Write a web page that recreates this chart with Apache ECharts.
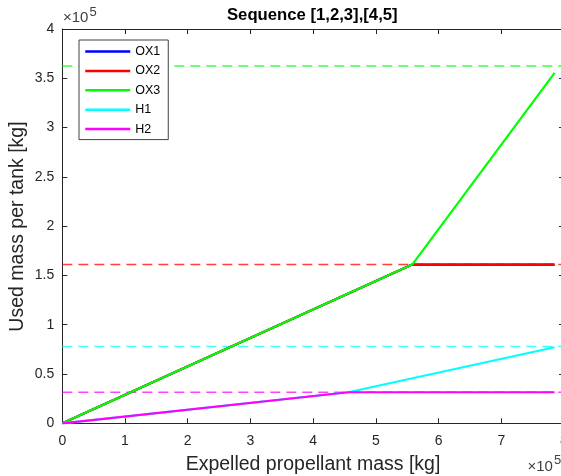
<!DOCTYPE html>
<html>
<head>
<meta charset="utf-8">
<script src="https://cdn.jsdelivr.net/npm/echarts@6/dist/echarts.min.js"></script>
<style>
  html, body { margin: 0; padding: 0; background: #fff; }
  #chart { width: 561px; height: 476px; }
</style>
</head>
<body>
<div id="chart"></div>
<script>
// Tank usage versus expelled propellant, sequence [1,2,3],[4,5]
const seriesNames = ['OX1', 'OX2', 'OX3', 'H1', 'H2'];

// Breakpoints of each tank's used-mass curve (kg)
const ox1Expelled = [0, 5.58e5, 7.85e5];
const ox1Used     = [0, 1.61e5, 1.61e5];
const ox2Expelled = [0, 5.58e5, 7.85e5];
const ox2Used     = [0, 1.61e5, 1.61e5];
const ox3Expelled = [0, 5.58e5, 7.85e5];
const ox3Used     = [0, 1.61e5, 3.555e5];
const h1Expelled  = [0, 4.56e5, 7.85e5];
const h1Used      = [0, 0.315e5, 0.772e5];
const h2Expelled  = [0, 4.56e5, 7.85e5];
const h2Used      = [0, 0.315e5, 0.315e5];

// Tank capacities drawn as dashed reference lines (kg)
const capacityTanks = ['OX3', 'OX2', 'H1', 'H2'];
const capacityMass  = [3.625e5, 1.61e5, 0.78e5, 0.315e5];
const capacitySpan  = [0, 8e5];

// Axis tick labels (scaled by 1e5)
const xTickLabels = ['0', '1', '2', '3', '4', '5', '6', '7', '8'];
const yTickLabels = ['0', '0.5', '1', '1.5', '2', '2.5', '3', '3.5', '4'];

const colors = { OX1: '#0000ff', OX2: '#ff0000', OX3: '#00ff00', H1: '#00ffff', H2: '#ff00ff' };
const ink = '#262626';
const font = '"Liberation Sans", Arial, Helvetica, sans-serif';

const curves = {
  OX1: [ox1Expelled, ox1Used],
  OX2: [ox2Expelled, ox2Used],
  OX3: [ox3Expelled, ox3Used],
  H1: [h1Expelled, h1Used],
  H2: [h2Expelled, h2Used]
};

const zip = (xs, ys) => xs.map((x, i) => [x, ys[i]]);

const capacitySeries = capacityTanks.map((tank, i) => ({
  name: tank + ' capacity',
  type: 'line',
  xAxisIndex: 0,
  yAxisIndex: 0,
  symbol: 'none',
  silent: true,
  data: capacitySpan.map(x => [x, capacityMass[i]]),
  lineStyle: { color: colors[tank], width: 1.5, type: [10, 6], opacity: 0.75 },
  z: 2
}));

const curveSeries = seriesNames.map(name => ({
  name: name,
  type: 'line',
  xAxisIndex: 0,
  yAxisIndex: 0,
  symbol: 'none',
  data: zip(curves[name][0], curves[name][1]),
  color: colors[name],
  lineStyle: { color: colors[name], width: 2.2 },
  z: 3
}));

const grid = { left: 62.3, top: 29, width: 501.7, height: 394.3, outerBoundsMode: 'none', containLabel: false };

const baseX = {
  type: 'value', min: 0, max: 8e5, interval: 1e5,
  splitLine: { show: false },
  axisLine: { onZero: false, lineStyle: { color: ink, width: 1 } },
  axisTick: { inside: true, length: 5, lineStyle: { color: ink } }
};
const baseY = {
  type: 'value', min: 0, max: 4e5, interval: 0.5e5,
  splitLine: { show: false },
  axisLine: { show: true, onZero: false, lineStyle: { color: ink, width: 1 } },
  axisTick: { show: true, inside: true, length: 5, lineStyle: { color: ink } }
};

const chart = echarts.init(document.getElementById('chart'), null, { renderer: 'canvas' });
chart.setOption({
  animation: false,
  backgroundColor: '#ffffff',
  grid: grid,
  xAxis: [
    Object.assign({}, baseX, {
      position: 'bottom',
      axisLabel: {
        margin: 11, color: ink, fontSize: 14, fontFamily: font,
        formatter: v => xTickLabels[Math.round(v / 1e5)]
      }
    }),
    Object.assign({}, baseX, { position: 'top', axisLabel: { show: false } })
  ],
  yAxis: [
    Object.assign({}, baseY, {
      position: 'left',
      axisLabel: {
        margin: 8, color: ink, fontSize: 14, fontFamily: font,
        formatter: v => yTickLabels[Math.round(v / 0.5e5)]
      }
    }),
    Object.assign({}, baseY, { position: 'right', axisLabel: { show: false } })
  ],
  legend: {
    data: seriesNames,
    orient: 'vertical',
    left: 79,
    top: 40,
    padding: [5, 8, 4, 5],
    itemWidth: 45,
    itemHeight: 12,
    itemGap: 6.4,
    backgroundColor: '#ffffff',
    borderColor: '#404040',
    borderWidth: 1,
    borderRadius: 0,
    itemStyle: { opacity: 0 },
    lineStyle: { width: 2.5 },
    textStyle: { color: '#000000', fontSize: 12.5, lineHeight: 12, fontFamily: font }
  },
  graphic: [
    {
      type: 'text', x: 312.3, y: 15.5,
      style: { text: 'Sequence [1,2,3],[4,5]', font: 'bold 16.7px ' + font, fill: '#000', align: 'center', verticalAlign: 'middle' }
    },
    {
      type: 'text', x: 313, y: 465,
      style: { text: 'Expelled propellant mass [kg]', font: '19.5px ' + font, fill: ink, align: 'center', verticalAlign: 'middle' }
    },
    {
      type: 'text', x: 17.5, y: 226.5, rotation: Math.PI / 2,
      style: { text: 'Used mass per tank [kg]', font: '19.5px ' + font, fill: ink, align: 'center', verticalAlign: 'middle' }
    },
    {
      type: 'text', x: 63, y: 18.3,
      style: { text: '×10', font: '15px ' + font, fill: '#404040', align: 'left', verticalAlign: 'middle' }
    },
    {
      type: 'text', x: 89.5, y: 12.8,
      style: { text: '5', font: '13px ' + font, fill: '#404040', align: 'left', verticalAlign: 'middle' }
    },
    {
      type: 'text', x: 527.5, y: 466.5,
      style: { text: '×10', font: '15px ' + font, fill: '#404040', align: 'left', verticalAlign: 'middle' }
    },
    {
      type: 'text', x: 554, y: 460.5,
      style: { text: '5', font: '13px ' + font, fill: '#404040', align: 'left', verticalAlign: 'middle' }
    }
  ],
  series: capacitySeries.concat(curveSeries)
});
</script>
</body>
</html>
